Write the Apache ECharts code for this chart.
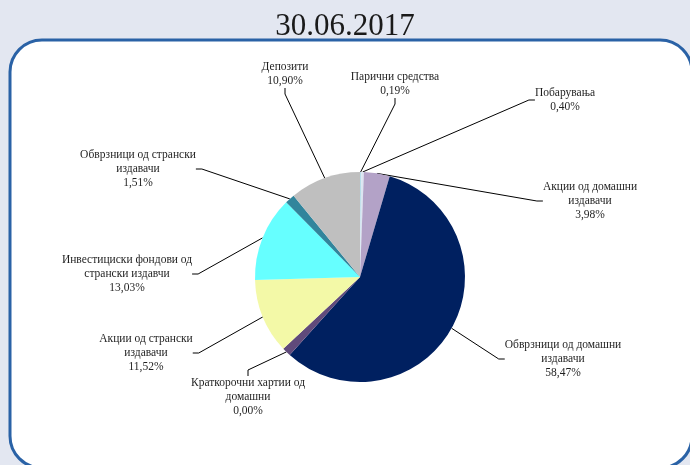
<!DOCTYPE html>
<html>
<head>
<meta charset="utf-8">
<script src="https://cdn.jsdelivr.net/npm/echarts@6/dist/echarts.min.js"></script>
<style>
  html, body { margin: 0; padding: 0; background: #e3e7f1; }
  #chart { width: 690px; height: 465px; }
</style>
</head>
<body>
<div id="chart"></div>
<script>
// slice names, clockwise from 12 o'clock
var categories = [
    'Парични средства',
    'Побарувања',
    'Акции од домашни\nиздавачи',
    'Обврзници од домашни\nиздавачи',
    'Краткорочни хартии од\nдомашни',
    'Акции од странски\nиздавачи',
    'Инвестициски фондови од\nстрански издавчи',
    'Обврзници од странски\nиздавачи',
    'Депозити'
];
// shares as printed on the labels (%)
var shares = [0.19, 0.40, 3.98, 58.47, 0.00, 11.52, 13.03, 1.51, 10.90];
// wedge sizes as drawn in the picture
var sliceSizes = [0.19, 0.40, 3.98, 57.10, 1.37, 11.52, 13.03, 1.51, 10.90];
var colors = ['#b7dde8', '#dbe5f1', '#b3a2c7', '#002060', '#604a7b', '#f3f9a7', '#66ffff', '#31859c', '#bfbfbf'];

// label anchor: [center x, top y]
var labelPos = [
    [395, 70], [565, 86], [590, 180], [563, 338], [248, 376],
    [146, 332], [127, 253], [138, 148], [285, 60]
];

var chart = echarts.init(document.getElementById('chart'));

var pieData = categories.map(function (name, i) {
    return {
        name: name,
        value: sliceSizes[i],
        share: shares[i],
        itemStyle: { color: colors[i] }
    };
});

var option = {
    backgroundColor: '#e3e7f1',
    animation: false,
    title: {
        text: '30.06.2017',
        left: 'center',
        top: 6,
        textStyle: {
            fontFamily: 'Liberation Serif',
            fontWeight: 'normal',
            fontSize: 31,
            color: '#1a1a1a'
        }
    },
    graphic: [{
        type: 'rect',
        z: -10,
        shape: { x: 10, y: 40, width: 682, height: 428, r: 32 },
        style: { fill: '#ffffff', stroke: '#2a62a6', lineWidth: 3 }
    }],
    series: [{
        type: 'pie',
        center: [360, 277],
        radius: 105,
        startAngle: 90,
        clockwise: true,
        data: pieData,
        itemStyle: { borderWidth: 0 },
        label: {
            show: true,
            position: 'outside',
            fontFamily: 'Liberation Serif',
            fontSize: 11.5,
            lineHeight: 14,
            color: '#1f1f1f',
            align: 'center',
            formatter: function (p) {
                return p.name + '\n' + p.data.share.toFixed(2).replace('.', ',') + '%';
            }
        },
        labelLine: {
            show: true,
            length: 0,
            length2: 6,
            lineStyle: { color: '#000000', width: 1 }
        },
        labelLayout: function (params) {
            var pos = labelPos[params.dataIndex];
            return {
                x: pos[0],
                y: pos[1],
                align: 'center',
                verticalAlign: 'top'
            };
        }
    }]
};

chart.setOption(option);
</script>
</body>
</html>
